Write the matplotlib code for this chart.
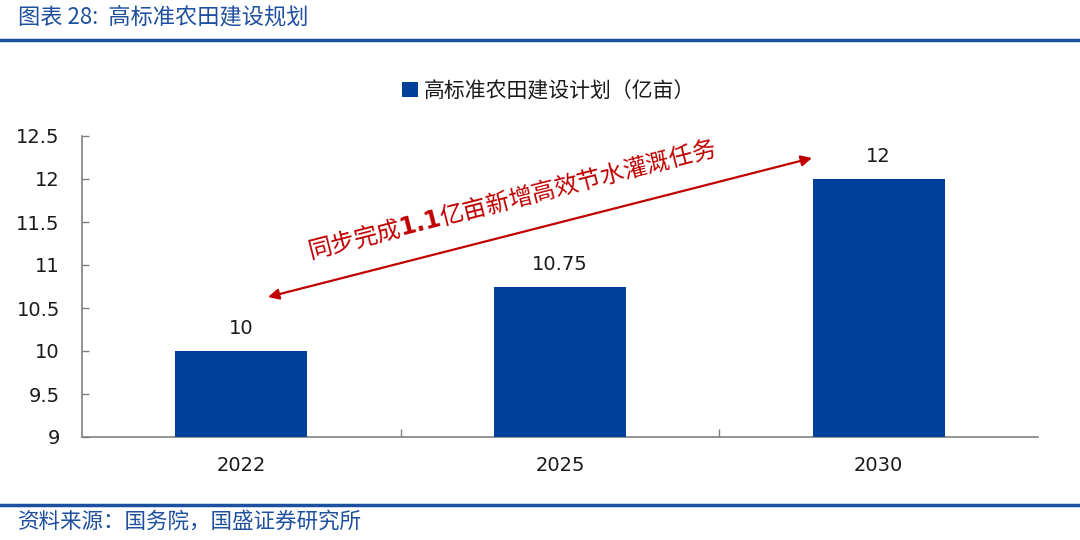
import matplotlib
matplotlib.use("Agg")
import matplotlib.pyplot as plt
from matplotlib.lines import Line2D
from matplotlib.patches import Patch

plt.rcParams['font.family'] = ['Noto Sans CJK SC', 'DejaVu Sans']
plt.rcParams['mathtext.fontset'] = 'dejavusans'

categories = ['2022', '2025', '2030']
values = [10, 10.75, 12]
value_labels = ['10', '10.75', '12']
yticks = [9, 9.5, 10, 10.5, 11, 11.5, 12, 12.5]
ytick_labels = ['9', '9.5', '10', '10.5', '11', '11.5', '12', '12.5']
series_name = '高标准农田建设计划（亿亩）'
title = '图表 28:  高标准农田建设规划'
source = '资料来源：国务院，国盛证券研究所'
annot = '同步完成$\\mathbf{1.1}$亿亩新增高效节水灌溉任务'

bar_color = '#00409A'
line_color = '#1C4FA0'
red = '#C00000'

fig = plt.figure(figsize=(10.8, 5.4), dpi=100)
ax = fig.add_axes([82/1080, 1-437/540, (1038-82)/1080, (437-136)/540])

x = list(range(len(categories)))
bars = ax.bar(x, [v - 9 for v in values], bottom=9, width=0.415, color=bar_color, zorder=3)
ax.set_xlim(-0.5, 2.5)
ax.set_ylim(9, 12.5)
ax.set_yticks(yticks)
ax.set_yticklabels(ytick_labels, family='DejaVu Sans')
ax.set_xticks([0.5, 1.5])
ax.set_xticks(x, minor=True)
ax.set_xticklabels(['', ''])
ax.set_xticklabels(categories, minor=True, family='DejaVu Sans')
ax.tick_params(axis='y', direction='in', length=5, width=1, color='#808080',
               labelsize=14, labelcolor='#1a1a1a', pad=16)
ax.tick_params(axis='x', which='major', direction='in', length=6, width=1, color='#808080')
ax.tick_params(axis='x', which='minor', length=0, labelsize=14, labelcolor='#1a1a1a', pad=14)
for s in ['top', 'right']:
    ax.spines[s].set_visible(False)
for s in ['left', 'bottom']:
    ax.spines[s].set_color('#808080')
    ax.spines[s].set_linewidth(1.2)

for xi, v, lab in zip(x, values, value_labels):
    ax.annotate(lab, (xi, v), xytext=(0, 16), textcoords='offset points',
                ha='center', va='center', fontsize=14, family='DejaVu Sans', color='#1a1a1a')

# legend
handles = [Patch(facecolor=bar_color, edgecolor='none')]
fig.legend(handles, [series_name], loc='center', bbox_to_anchor=(0.508, 1-91/540),
           frameon=False, fontsize=15, handlelength=0.75, handleheight=0.75,
           handletextpad=0.3, labelcolor='#1a1a1a')

# arrow annotation
ax.annotate('', xy=(812/1080, 1-158/540), xytext=(268/1080, 1-297/540),
            xycoords='figure fraction', textcoords='figure fraction',
            arrowprops=dict(arrowstyle='<|-|>', color=red, lw=1.6,
                            mutation_scale=16, shrinkA=0, shrinkB=0), zorder=5)
fig.text(512/1080, 1-199/540, annot, rotation=14.3, rotation_mode='anchor',
         ha='center', va='center', color=red, fontsize=17)

# title and source
fig.text(18/1080, 1-17/540, title, ha='left', va='center', fontsize=16,
         color='#1F4F9F', style='italic')
fig.add_artist(Line2D([0, 1], [1-40/540, 1-40/540], color=line_color, lw=2.5,
                      transform=fig.transFigure))
fig.add_artist(Line2D([0, 1], [1-505/540, 1-505/540], color=line_color, lw=2.5,
                      transform=fig.transFigure))
fig.text(18/1080, 1-522/540, source, ha='left', va='center', fontsize=15.5,
         color='#1F4F9F', style='italic')

fig.savefig('out.png', dpi=100)
